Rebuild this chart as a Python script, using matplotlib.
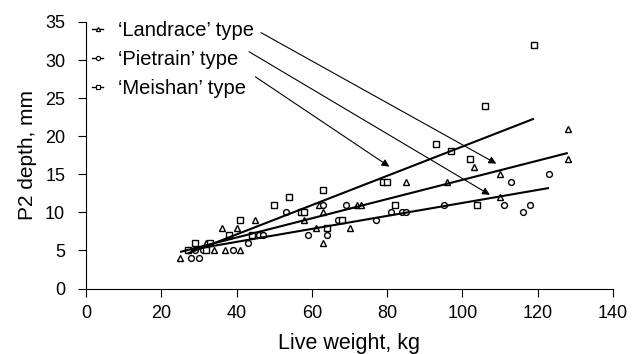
import matplotlib
matplotlib.use("Agg")
import matplotlib.pyplot as plt
from matplotlib.lines import Line2D

plt.rcParams['font.family'] = ['Liberation Sans', 'DejaVu Sans']

# Landrace (triangles)
landrace_x = [25, 32, 34, 36, 37, 40, 41, 45, 58, 61, 62, 63, 63, 70, 72, 73, 85, 96, 103, 110, 110, 128, 128]
landrace_y = [4, 6, 5, 8, 5, 8, 5, 9, 9, 8, 11, 10, 6, 8, 11, 11, 14, 14, 16, 15, 12, 21, 17]

# Pietrain (circles)
pietrain_x = [28, 29, 30, 31, 39, 43, 46, 47, 53, 59, 63, 64, 67, 69, 77, 81, 84, 85, 95, 111, 113, 116, 118, 123]
pietrain_y = [4, 5, 4, 5, 5, 6, 7, 7, 10, 7, 11, 7, 9, 11, 9, 10, 10, 10, 11, 11, 14, 10, 11, 15]

# Meishan (squares)
meishan_x = [27, 29, 32, 33, 38, 41, 44, 50, 54, 57, 58, 63, 64, 68, 79, 80, 82, 93, 97, 102, 104, 106, 119]
meishan_y = [5, 6, 5, 6, 7, 9, 7, 11, 12, 10, 10, 13, 8, 9, 14, 14, 11, 19, 18, 17, 11, 24, 32]

# trend lines (start / end)
landrace_fit_x = [25, 128]
landrace_fit_y = [4.8, 17.8]
pietrain_fit_x = [28, 123]
pietrain_fit_y = [5.1, 13.2]
meishan_fit_x = [27, 119]
meishan_fit_y = [4.6, 22.3]

labels = ["\u2018Landrace\u2019 type", "\u2018Pietrain\u2019 type", "\u2018Meishan\u2019 type"]
markers = ['^', 'o', 's']

# arrows from legend text to the lines: (start, tip)
arrow_start = [(46.5, 33.6), (43.3, 31.1), (45.0, 27.8)]
arrow_tip = [(109.0, 16.4), (107.3, 12.3), (80.6, 16.0)]

W, H = 638, 354
fig = plt.figure(figsize=(W / 100, H / 100), dpi=100)
ax = fig.add_axes([86 / W, 1 - 288.5 / H, (613 - 86) / W, (288.5 - 22) / H])

series = [(landrace_x, landrace_y), (pietrain_x, pietrain_y), (meishan_x, meishan_y)]
for (xs, ys), m in zip(series, markers):
    ax.plot(xs, ys, linestyle='none', marker=m, ms=4.2, mfc='white', mec='black', mew=1.0)

for fx, fy in [(landrace_fit_x, landrace_fit_y), (pietrain_fit_x, pietrain_fit_y), (meishan_fit_x, meishan_fit_y)]:
    ax.plot(fx, fy, color='black', lw=1.5, solid_capstyle='butt')

for s, t in zip(arrow_start, arrow_tip):
    ax.annotate("", xy=t, xytext=s,
                arrowprops=dict(arrowstyle='-|>', color='black', lw=0.8,
                                mutation_scale=11, shrinkA=0, shrinkB=0))

handles = [Line2D([], [], color='black', lw=1, marker=m, ms=3, mfc='white', mec='black', mew=0.8)
           for m in markers]
ax.legend(handles, labels, loc='upper left', bbox_to_anchor=(92 / W, 1 - 21 / H),
          bbox_transform=fig.transFigure, frameon=False,
          fontsize=14.5, handlelength=0.55, handletextpad=0.75, labelspacing=0.5,
          borderaxespad=0, borderpad=0)

ax.set_xlim(0, 140)
ax.set_ylim(0, 35)
ax.set_xticks(range(0, 141, 20))
ax.set_yticks(range(0, 36, 5))
ax.spines['top'].set_visible(False)
ax.spines['right'].set_visible(False)
ax.tick_params(direction='out', length=6, labelsize=13)
ax.tick_params(axis='x', pad=6)
ax.tick_params(axis='y', pad=9)
ax.set_xlabel("Live weight, kg", fontsize=15.5, labelpad=8)
ax.set_ylabel("P2 depth, mm", fontsize=15, labelpad=6)

fig.savefig("out.png", dpi=100)
